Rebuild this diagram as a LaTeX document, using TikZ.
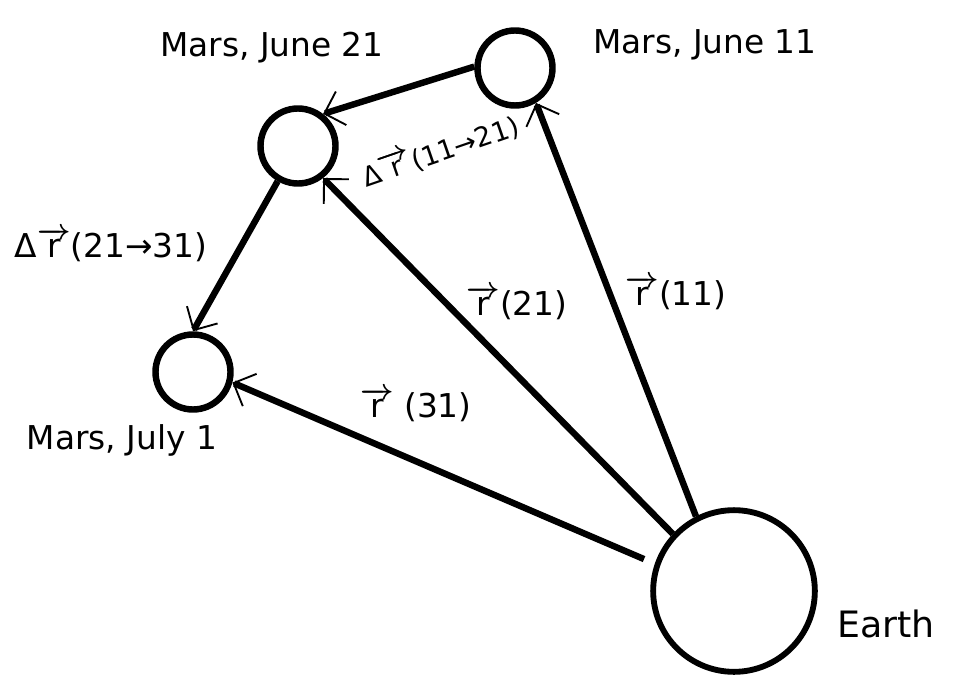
\documentclass[tikz,border=0pt]{standalone}
\usepackage{amsmath}
\usepackage{fontspec}
\setmainfont{DejaVu Sans}
\usetikzlibrary{arrows.meta}

\newcommand{\vr}{{\boldmath$\overrightarrow{\text{r}}$}}

\begin{document}
\begin{tikzpicture}[x=0.03cm,y=-0.03cm,
  >={Straight Barb[length=15pt,width=30pt,line width=1.6pt]},
  font=\fontsize{28}{32}\selectfont,
  planet/.style={circle,draw,line width=5.5pt,inner sep=0pt},
  vec/.style={->,line width=5.5pt}]

\useasboundingbox (0,0) rectangle (954,677);

% --- Posizioni di Marte e Terra
\node[planet,minimum size=2.25cm] (jun11) at (515,68)  {};
\node[planet,minimum size=2.25cm] (jun21) at (298,146) {};
\node[planet,minimum size=2.25cm] (jul1)  at (193,372) {};
\node[planet,minimum size=4.85cm,line width=5pt] (earth) at (734,591) {};

% --- Nomi
\node (njun21) at (272,48)  {Mars, June 21};
\node (njun11) at (705,45)  {Mars, June 11};
\node (njul1)  at (122,440) {Mars, July 1};
\node (nearth) at (886,624) {\fontsize{31}{34}\selectfont Earth};

% --- Vettori posizione dalla Terra
\draw[vec] (earth.117) -- (jun11.-59);
\draw[vec] (earth.137) -- (jun21.-52);
\draw[vec,shorten <=10pt] (earth.161) -- (jul1.-15);

% --- Spostamenti
\draw[vec] (jun11.178) -- (jun21.52);
\draw[vec] (jun21.240) -- (jul1.90);

% --- Etichette dei vettori
\node[rotate=19] (d1121) at (440,150) {\fontsize{23}{26}\selectfont Δ\vr(11→21)};
\node (d2131) at (111,245) {Δ\vr(21→31)};
\node (r21) at (517,303) {\vr(21)};
\node (r11) at (676,293) {\vr(11)};
\node (r31) at (416,405) {\vr\ (31)};

\end{tikzpicture}
\end{document}
